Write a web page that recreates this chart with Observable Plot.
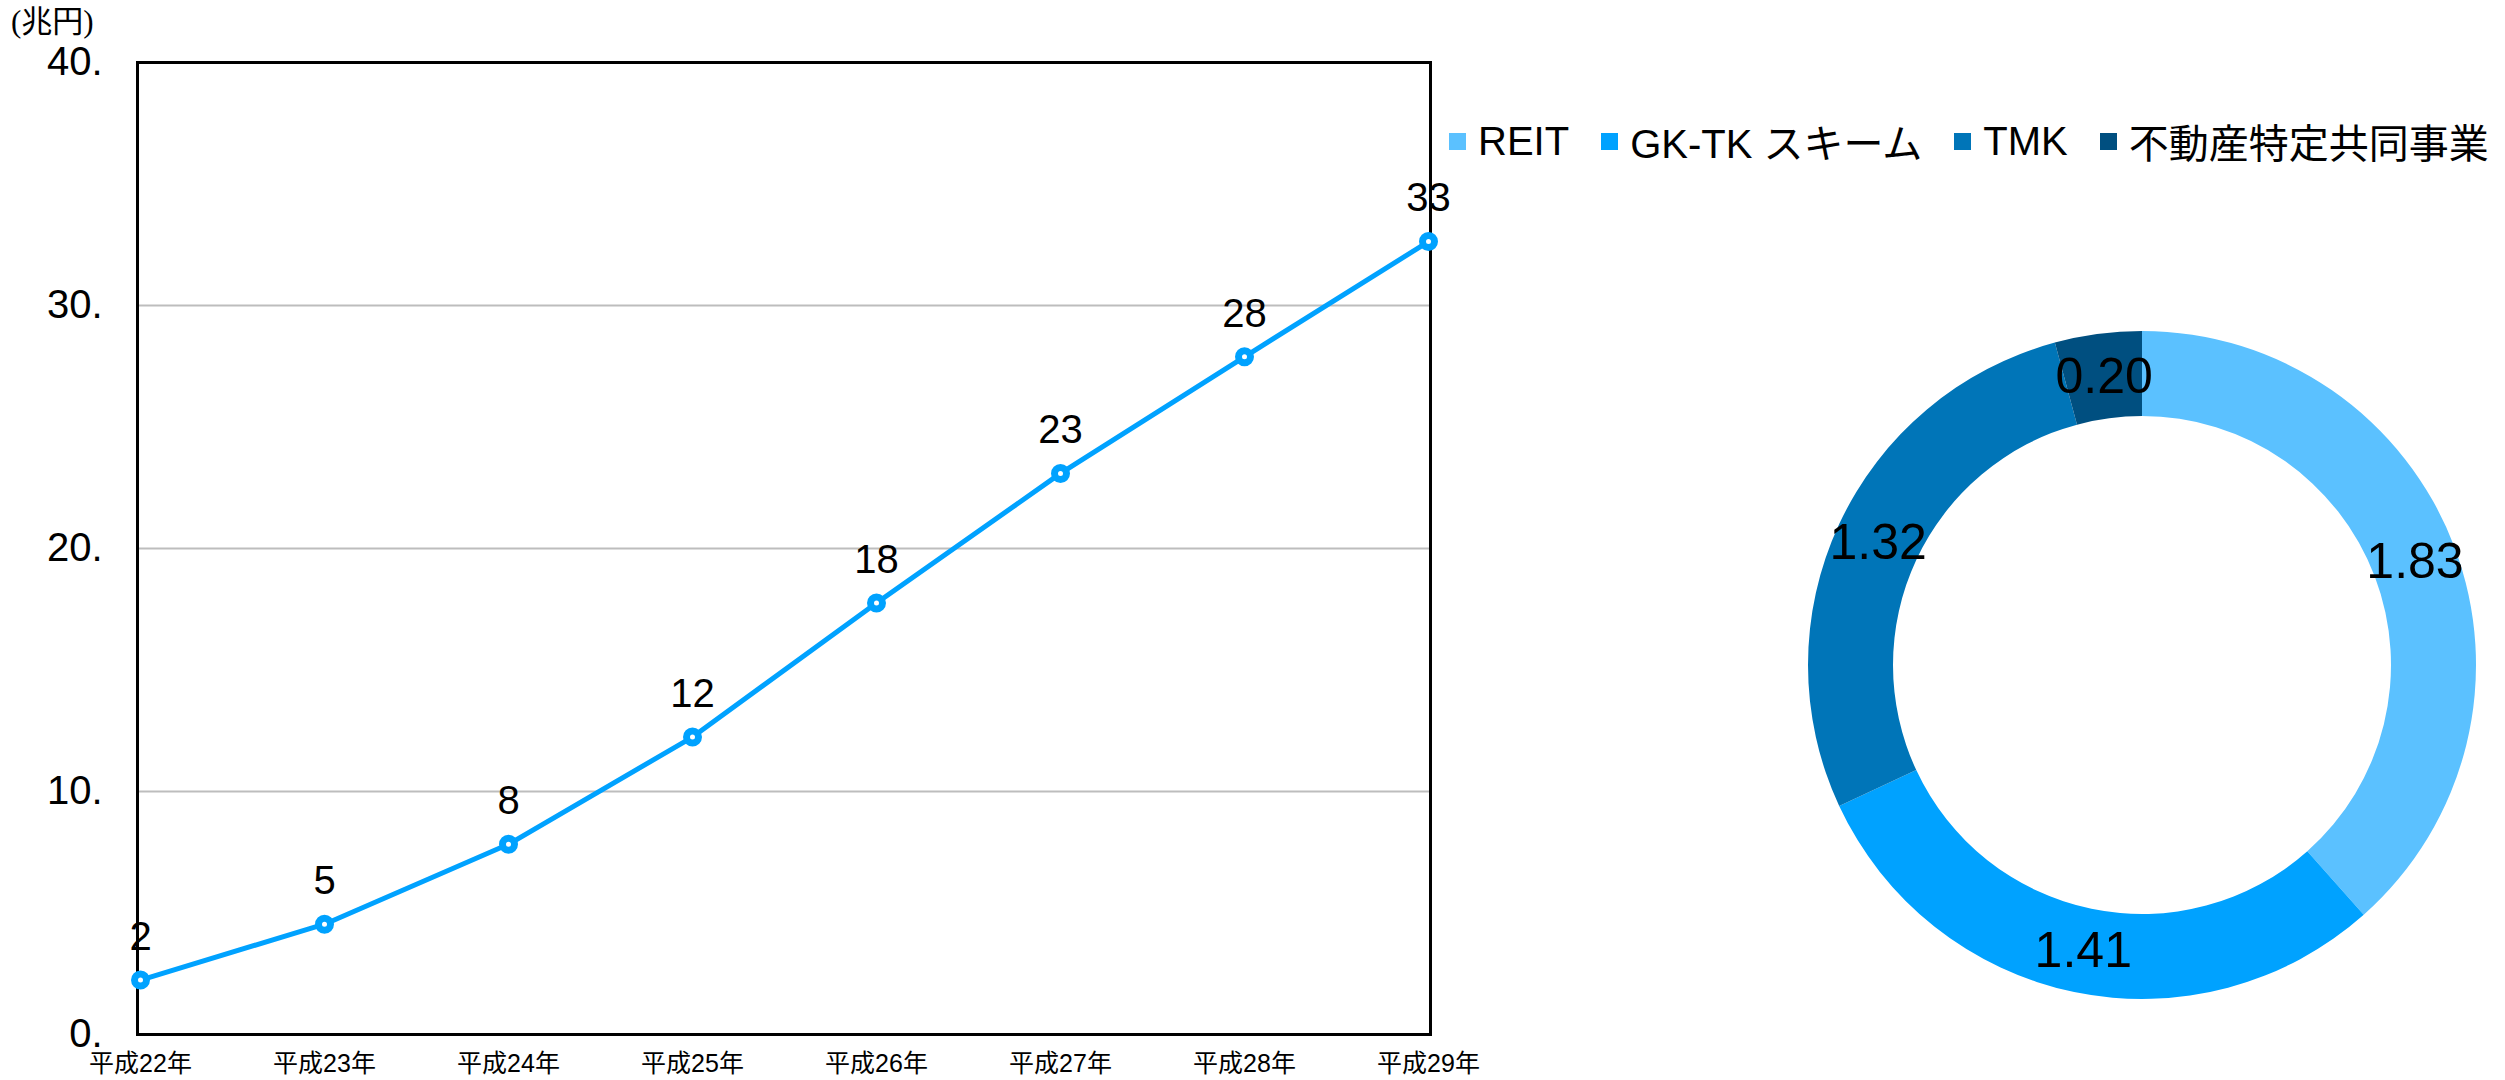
<!DOCTYPE html>
<html><head><meta charset="utf-8">
<script src="https://cdn.jsdelivr.net/npm/d3@7"></script>
<script src="https://cdn.jsdelivr.net/npm/@observablehq/plot@0.6"></script>
<style>
html,body{margin:0;padding:0;background:#fff;}
#root{position:relative;width:2505px;height:1080px;overflow:hidden;background:#fff;}
#line{position:absolute;left:0;top:0;}
#donut{position:absolute;left:1500px;top:0;}
#unit{position:absolute;left:11px;top:6px;font-size:31px;line-height:31px;font-family:"Liberation Serif","Noto Sans CJK JP",serif;}
#legend{position:absolute;left:1449px;top:112px;white-space:nowrap;}
#legend *{font-family:"Liberation Sans","Noto Sans CJK JP",sans-serif !important;}
#legend > div{font-size:40px !important;margin:0 !important;}
#legend div[class$="-swatches-wrap"]{flex-wrap:nowrap !important;}
#legend span[class$="-swatch"]{margin-right:0.8em !important;}
#legend span[class$="-swatch"] > svg{margin-right:0.3em !important;}
</style></head><body>
<div id="root">
  <div id="line"></div>
  <div id="unit">(兆円)</div>
  <div id="legend"></div>
  <div id="donut"></div>
</div>
<script>
// ---- Line chart data ----
const years = ["平成22年","平成23年","平成24年","平成25年","平成26年","平成27年","平成28年","平成29年"];
const totals = [2.24, 4.54, 7.83, 12.24, 17.76, 23.09, 27.89, 32.63];
const totalLabels = ["2","5","8","12","18","23","28","33"];
const yTicks = [0, 10, 20, 30, 40];
const gridTicks = [10, 20, 30];

// ---- Donut data ----
const schemes = ["REIT", "GK-TK スキーム", "TMK", "不動産特定共同事業"];
const shares = [1.83, 1.41, 1.32, 0.20];
const shareLabels = ["1.83", "1.41", "1.32", "0.20"];

// ---- Styles ----
const palette = ["#5BC1FF", "#00A2FF", "#0075B8", "#004F80"];
const lineColor = "#00A2FF";

const rows = years.map((yr, i) => ({year: yr, value: totals[i], label: totalLabels[i]}));

const linePlot = Plot.plot({
  width: 1470, height: 1080,
  marginLeft: 137, marginRight: 40, marginTop: 62, marginBottom: 46,
  style: {fontFamily: "Liberation Sans, Arial, sans-serif", background: "transparent", overflow: "visible", color: "black"},
  x: {type: "point", domain: years, padding: 0},
  y: {domain: [0, 40]},
  marks: [
    Plot.ruleY(gridTicks, {stroke: "#bdbdbd", strokeWidth: 2}),
    Plot.axisY({ticks: yTicks, tickSize: 0, tickPadding: 35, tickFormat: d => d + ".", fontSize: 40, label: null}),
    Plot.axisX({tickSize: 0, tickPadding: 20, fontSize: 25, fontFamily: "Liberation Sans, Noto Sans CJK JP, sans-serif", label: null}),
    Plot.frame({stroke: "#000", strokeWidth: 3}),
    Plot.line(rows, {x: "year", y: "value", stroke: lineColor, strokeWidth: 5}),
    Plot.dot(rows, {x: "year", y: "value", r: 6, fill: "white", stroke: lineColor, strokeWidth: 7}),
    Plot.text(rows, {x: "year", y: "value", text: "label", dy: -43, fontSize: 40, fill: "black"})
  ]
});
document.getElementById("line").appendChild(linePlot);

// ---- Donut ----
const colorScale = Plot.scale({color: {type: "categorical", domain: schemes, range: palette}});
const pie = d3.pie().sort(null).value(d => d)(shares);
const slices = pie.map((p, i) => ({name: schemes[i], label: shareLabels[i], a0: p.startAngle, a1: p.endAngle, mid: (p.startAngle + p.endAngle) / 2}));
const innerRatio = 249 / 334;
const labelR = (1 + innerRatio) / 2;

function ring(index, scales, values, dims) {
  const cx = scales.x(0), cy = scales.y(0), R = scales.x(1) - cx;
  const arc = d3.arc().innerRadius(R * innerRatio).outerRadius(R);
  const g = d3.create("svg:g").attr("transform", `translate(${cx},${cy})`);
  g.selectAll("path").data(slices).join("path")
    .attr("d", d => arc({startAngle: d.a0, endAngle: d.a1}))
    .attr("fill", d => colorScale.apply(d.name));
  return g.node();
}

const donutPlot = Plot.plot({
  width: 1005, height: 1080, margin: 0,
  style: {fontFamily: "Liberation Sans, Arial, sans-serif", background: "transparent", overflow: "visible"},
  x: {domain: [-1, 1], range: [308, 976], axis: null},
  y: {domain: [-1, 1], range: [999, 331], axis: null},
  marks: [
    ring,
    Plot.text(slices, {x: d => Math.sin(d.mid) * labelR, y: d => Math.cos(d.mid) * labelR, text: "label", fontSize: 50, fill: "black"})
  ]
});
document.getElementById("donut").appendChild(donutPlot);

// ---- Legend ----
const legend = Plot.legend({
  color: {type: "categorical", domain: schemes, range: palette},
  swatchSize: 17,
  style: {fontSize: "40px", fontFamily: "Liberation Sans, Noto Sans CJK JP, sans-serif", color: "black"}
});
document.getElementById("legend").appendChild(legend);
</script>
</body></html>
